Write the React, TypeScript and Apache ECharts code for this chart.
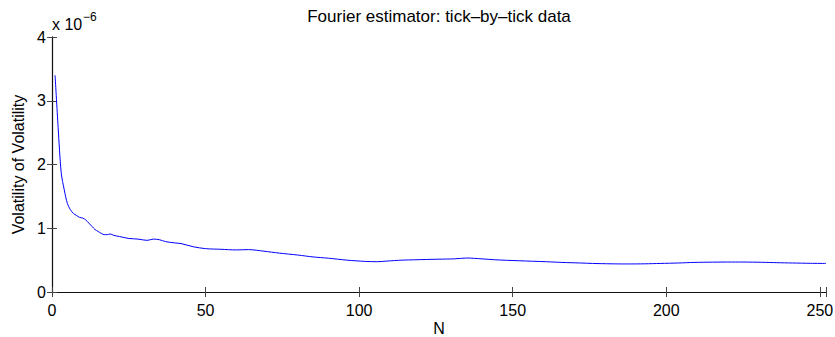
import React, { useEffect, useRef } from "react";
import * as echarts from "echarts";

const nValues = [
  1, 2, 3, 4, 5, 6, 7, 8, 9, 10, 11, 12, 13, 14, 15, 16, 17, 18, 19, 20,
  22, 25, 28, 31, 33, 35, 37, 40, 42, 46, 50, 55, 60, 64, 69, 74, 80, 85,
  90, 96, 102, 106, 109, 114, 118, 126, 131, 135, 140, 144, 152, 161, 166,
  172, 176, 182, 187, 193, 198, 204, 209, 215, 220, 225, 231, 236, 241, 247, 252,
];
const volValues = [
  3.4, 2.58, 1.87, 1.6, 1.39, 1.29, 1.23, 1.2, 1.17, 1.16, 1.13, 1.08, 1.03,
  0.98, 0.95, 0.92, 0.9, 0.9, 0.91, 0.89, 0.87, 0.84, 0.83, 0.81, 0.83, 0.82,
  0.79, 0.77, 0.76, 0.71, 0.68, 0.67, 0.66, 0.665, 0.64, 0.61, 0.58, 0.55,
  0.53, 0.5, 0.48, 0.475, 0.485, 0.5, 0.505, 0.515, 0.52, 0.533, 0.52, 0.506,
  0.49, 0.475, 0.464, 0.455, 0.448, 0.442, 0.44, 0.442, 0.448, 0.455, 0.464,
  0.468, 0.47, 0.47, 0.466, 0.46, 0.455, 0.45, 0.448,
];
const xTicks = [0, 50, 100, 150, 200, 250];
const yTicks = [0, 1, 2, 3, 4];

const titleText = "Fourier estimator: tick\u2013by\u2013tick data";
const xName = "N";
const yName = "Volatility of Volatility";

const FONT = "'Liberation Sans', Arial, Helvetica, sans-serif";

export default function App() {
  const ref = useRef<HTMLDivElement>(null);
  useEffect(() => {
    if (!ref.current) return;
    const chart = echarts.init(ref.current, undefined, { renderer: "svg" });
    const data = nValues.map((n, i) => [n, volValues[i]]);
    const mainLine = { show: true, lineStyle: { color: "#000", width: 1.2 } };
    const boxLine = { show: true, lineStyle: { color: "#111", width: 1 } };
    const tick = { show: true, inside: true, length: 5, lineStyle: { color: "#444", width: 1 } };
    chart.setOption({
      animation: false,
      backgroundColor: "#fff",
      grid: {
        left: 52,
        right: 9,
        top: 37,
        bottom: 45,
        containLabel: false,
        outerBoundsMode: "none",
      },
      graphic: [
        {
          type: "text",
          x: 439,
          y: 16,
          style: {
            text: titleText,
            font: `17px ${FONT}`,
            fill: "#000",
            textAlign: "center",
            textVerticalAlign: "middle",
          },
        },
        {
          type: "text",
          x: 52,
          y: 24.5,
          style: {
            text: "x 10",
            font: `16px ${FONT}`,
            fill: "#000",
            textAlign: "left",
            textVerticalAlign: "middle",
          },
        },
        {
          type: "text",
          x: 83,
          y: 16.5,
          style: {
            text: "\u22126",
            font: `12px ${FONT}`,
            fill: "#000",
            textAlign: "left",
            textVerticalAlign: "middle",
          },
        },
        {
          type: "text",
          x: 439,
          y: 336,
          style: {
            text: xName,
            font: `16px ${FONT}`,
            fill: "#000",
            textAlign: "center",
            textVerticalAlign: "bottom",
          },
        },
      ],
      xAxis: [
        {
          type: "value",
          min: 0,
          max: 252,
          interval: 50,
          position: "bottom",
          axisLine: mainLine,
          axisTick: tick,
          splitLine: { show: false },
          axisLabel: {
            color: "#000",
            fontSize: 16,
            fontFamily: FONT,
            margin: 10,
            formatter: (v: number) => (xTicks.includes(v) ? String(v) : ""),
          },
        },
        {
          type: "value",
          min: 0,
          max: 252,
          interval: 50,
          position: "top",
          axisLine: boxLine,
          axisTick: tick,
          splitLine: { show: false },
          axisLabel: { show: false },
        },
      ],
      yAxis: [
        {
          type: "value",
          min: 0,
          max: 4,
          interval: 1,
          position: "left",
          name: yName,
          nameLocation: "middle",
          nameGap: 26,
          nameTextStyle: { fontSize: 16, color: "#000", fontFamily: FONT },
          axisLine: mainLine,
          axisTick: tick,
          splitLine: { show: false },
          axisLabel: {
            color: "#000",
            fontSize: 16,
            fontFamily: FONT,
            margin: 6,
            formatter: (v: number) => (yTicks.includes(v) ? String(v) : ""),
          },
        },
        {
          type: "value",
          min: 0,
          max: 4,
          interval: 1,
          position: "right",
          axisLine: boxLine,
          axisTick: tick,
          splitLine: { show: false },
          axisLabel: { show: false },
        },
      ],
      series: [
        {
          type: "line",
          data,
          xAxisIndex: 0,
          yAxisIndex: 0,
          showSymbol: false,
          symbol: "none",
          smooth: 0.3,
          lineStyle: { color: "#0000ff", width: 1 },
        },
      ],
    });
    return () => chart.dispose();
  }, []);
  return (
    <div
      ref={ref}
      style={{ position: "absolute", left: 0, top: 0, width: 835, height: 337 }}
    />
  );
}
